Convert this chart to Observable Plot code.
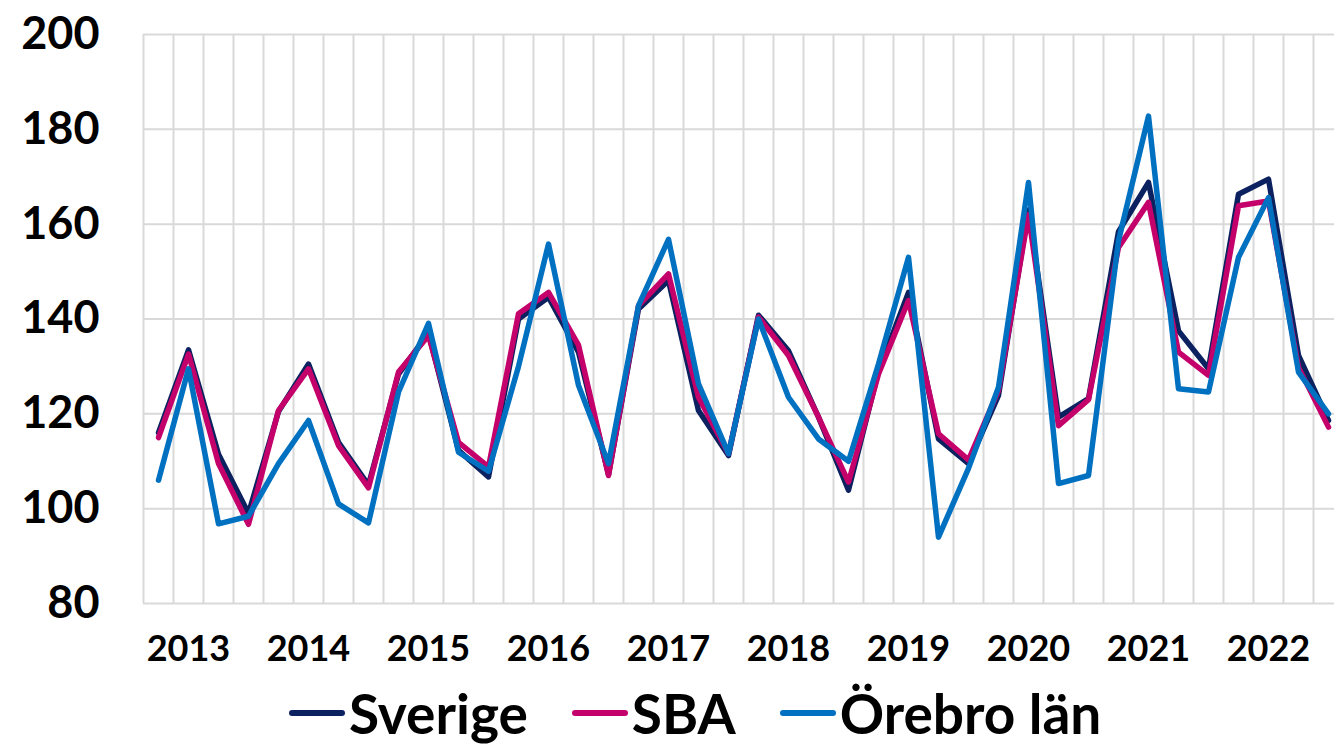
<!DOCTYPE html>
<html>
<head>
<meta charset="utf-8">
<script src="https://cdn.jsdelivr.net/npm/d3@7"></script>
<script src="https://cdn.jsdelivr.net/npm/@observablehq/plot@0.6"></script>
<style>
  html, body { margin: 0; padding: 0; background: #fff; overflow: hidden; }
  body { font-family: Lato, "Open Sans", "DejaVu Sans", sans-serif; }
  #wrap { width: 1334px; height: 748px; overflow: hidden; position: relative; }
  #chart svg { max-width: none !important; display: block; }
  #legend { display: flex; align-items: center; height: 70px; padding-left: 289px; gap: 44px; }
  .item { display: flex; align-items: center; }
  .sw { width: 56px; height: 6px; border-radius: 3px; margin-right: 4px; }
  .lbl { font-size: 55px; font-weight: 700; color: #000; line-height: 1; }
</style>
</head>
<body>
<div id="wrap">
  <div id="chart"></div>
  <div id="legend"></div>
</div>
<script>
// Kvartal 2013K1 – 2022K4
const years = [2013, 2014, 2015, 2016, 2017, 2018, 2019, 2020, 2021, 2022];
const quarters = ["K1", "K2", "K3", "K4"];

const sverige = [116, 133.5, 111.5, 99, 120.5, 130.5, 114, 105, 128.4, 137,
                 112.3, 106.7, 140, 144.6, 133, 107.2, 142.1, 148.1, 120.7, 111.2,
                 140.8, 133.3, 119.3, 103.9, 129, 145.6, 114.7, 109.5, 123.9, 163,
                 119.3, 123.2, 158.4, 168.8, 137.5, 129.5, 166.3, 169.5, 132.3, 118.6];
const sba = [115, 132.6, 109.5, 96.7, 120.7, 129.5, 113.3, 104.4, 128.8, 136.5,
             114, 108.8, 141.1, 145.6, 134.5, 107, 142.8, 149.5, 123.5, 111.6,
             140.4, 132.3, 119.3, 105.6, 128.4, 143.9, 115.8, 110.3, 124.9, 162,
             117.5, 123, 155.1, 164.6, 133, 128.1, 163.9, 164.9, 129.8, 117.2];
const orebro = [106, 129.5, 96.8, 98.4, 109.5, 118.6, 101, 97, 124.6, 139.1,
                111.9, 107.9, 130, 155.8, 126, 109.5, 142.8, 156.8, 126.3, 111.6,
                140, 123.5, 114.7, 110, 130.5, 153, 94, 108.5, 125.6, 168.8,
                105.3, 107, 156.5, 182.8, 125.3, 124.6, 153, 165.6, 128.8, 120];

const seriesNames = ["Sverige", "SBA", "Örebro län"];
const seriesColors = ["#0c215f", "#c4006b", "#0070c0"];
const yTicks = [80, 100, 120, 140, 160, 180, 200];

const periods = years.flatMap(y => quarters.map(q => `${y}${q}`));
const seriesValues = [sverige, sba, orebro];
const data = seriesValues.flatMap((vals, s) =>
  vals.map((v, i) => ({ idx: i + 0.5, period: periods[i], value: v, series: seriesNames[s] })));

const gridX = d3.range(periods.length + 1);
const labelPos = years.map((y, i) => i * quarters.length + 1.5);

const chart = Plot.plot({
  width: 1343,
  height: 678,
  marginLeft: 143,
  marginRight: 0,
  marginTop: 34,
  marginBottom: 75,
  style: { fontFamily: "Lato, 'Open Sans', 'DejaVu Sans', sans-serif", color: "#000", background: "#fff", maxWidth: "none" },
  x: { type: "linear", domain: [0, periods.length], axis: null, label: null },
  y: { domain: [80, 200], axis: null, label: null },
  color: { domain: seriesNames, range: seriesColors },
  marks: [
    Plot.ruleX(gridX, { stroke: "#d9d9d9", strokeWidth: 2 }),
    Plot.ruleY(yTicks, { stroke: "#d9d9d9", strokeWidth: 2 }),
    Plot.axisY({ ticks: yTicks, label: null, tickSize: 0, tickPadding: 44, fontSize: 45, fontWeight: 700, tickFormat: d => String(d) }),
    Plot.axisX({ ticks: labelPos, label: null, tickSize: 0, tickPadding: 32, fontSize: 36, fontWeight: 700,
                 tickFormat: d => String(years[Math.round((d - 1.5) / quarters.length)]) }),
    Plot.line(data, { x: "idx", y: "value", z: "series", stroke: "series",
                      strokeWidth: 5.5, strokeLinejoin: "round", strokeLinecap: "round" })
  ]
});
document.getElementById("chart").appendChild(chart);

const legend = document.getElementById("legend");
seriesNames.forEach((name, i) => {
  const item = document.createElement("div");
  item.className = "item";
  const sw = document.createElement("div");
  sw.className = "sw";
  sw.style.background = seriesColors[i];
  const lbl = document.createElement("span");
  lbl.className = "lbl";
  lbl.textContent = name;
  item.appendChild(sw);
  item.appendChild(lbl);
  legend.appendChild(item);
});
</script>
</body>
</html>
